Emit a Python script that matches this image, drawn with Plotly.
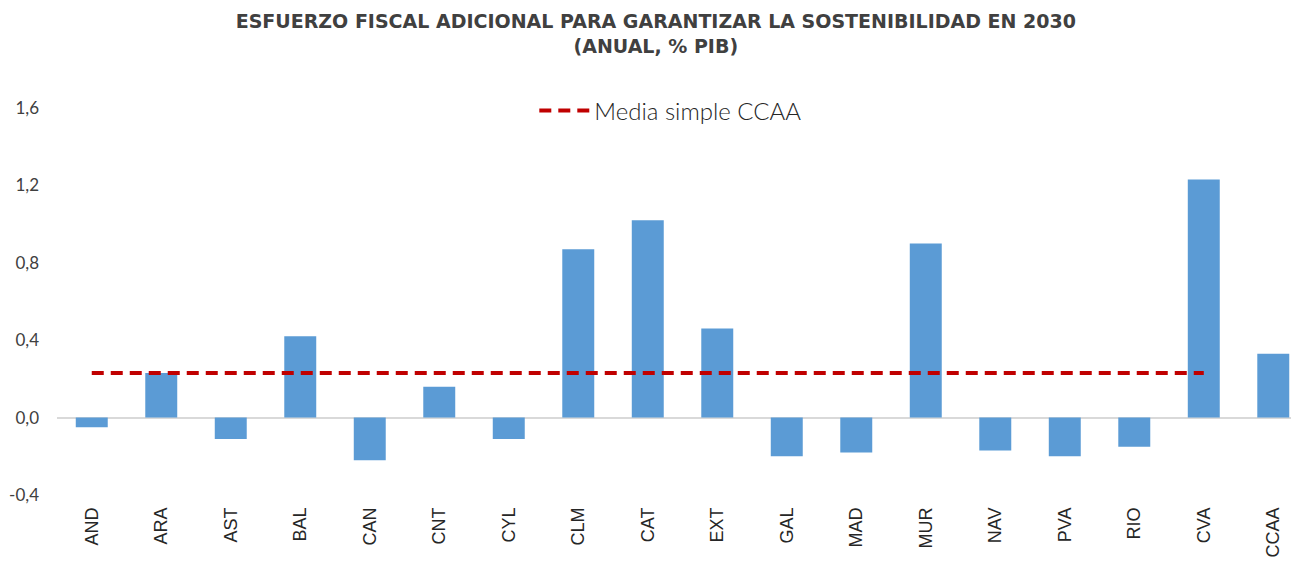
import plotly.graph_objects as go

categories = ["AND", "ARA", "AST", "BAL", "CAN", "CNT", "CYL", "CLM", "CAT", "EXT",
              "GAL", "MAD", "MUR", "NAV", "PVA", "RIO", "CVA", "CCAA"]
values = [-0.05, 0.23, -0.11, 0.42, -0.22, 0.16, -0.11, 0.87, 1.02, 0.46,
          -0.20, -0.18, 0.90, -0.17, -0.20, -0.15, 1.23, 0.33]
media_categories = categories[:-1]
media_value = 0.23
y_ticks = [-0.4, 0.0, 0.4, 0.8, 1.2, 1.6]
y_ticktext = ["-0,4", "0,0", "0,4", "0,8", "1,2", "1,6"]

fig = go.Figure()
fig.add_trace(go.Bar(
    x=categories, y=values, marker=dict(color="#5B9BD5", line=dict(width=0)),
    showlegend=False, width=0.46,
))
fig.add_trace(go.Scatter(
    x=media_categories, y=[media_value] * len(media_categories), mode="lines",
    name="Media simple CCAA",
    line=dict(color="#C00000", width=4, dash="12px,7px"),
))

fig.update_layout(
    width=1291, height=566,
    margin=dict(l=57, r=0, t=108, b=71, autoexpand=False),
    paper_bgcolor="white", plot_bgcolor="white",
    title=dict(
        text="<b>ESFUERZO FISCAL ADICIONAL PARA GARANTIZAR LA SOSTENIBILIDAD EN 2030<br>(ANUAL, % PIB)</b>",
        x=0.508, xanchor="center", yref="container", y=1 - 28 / 566, yanchor="middle",
        font=dict(family="DejaVu Sans", size=19, color="#404040"),
    ),
    legend=dict(
        orientation="h", x=0.497, xanchor="center",
        yref="container", y=1 - 111 / 566, yanchor="middle",
        itemwidth=50,
        font=dict(family="Lato", size=24, weight=300, color="#262626"),
        bgcolor="rgba(0,0,0,0)",
    ),
    xaxis=dict(
        type="category", range=[-0.5, 17.255], tickangle=-90,
        showgrid=False, showline=False, ticks="", automargin=False,
        ticklabelstandoff=8,
        tickfont=dict(family="Liberation Sans", size=18, color="#262626"),
    ),
    yaxis=dict(
        range=[-0.4, 1.6], tickvals=y_ticks, ticktext=y_ticktext,
        showgrid=False, zeroline=True, zerolinecolor="#D9D9D9", zerolinewidth=2,
        showline=False, ticks="", automargin=False, ticklabelstandoff=17,
        tickfont=dict(family="Lato", size=17, color="#404040"),
    ),
)

fig.write_html("out.html", config={"displayModeBar": False},
               post_script="document.body.style.margin='0';")
